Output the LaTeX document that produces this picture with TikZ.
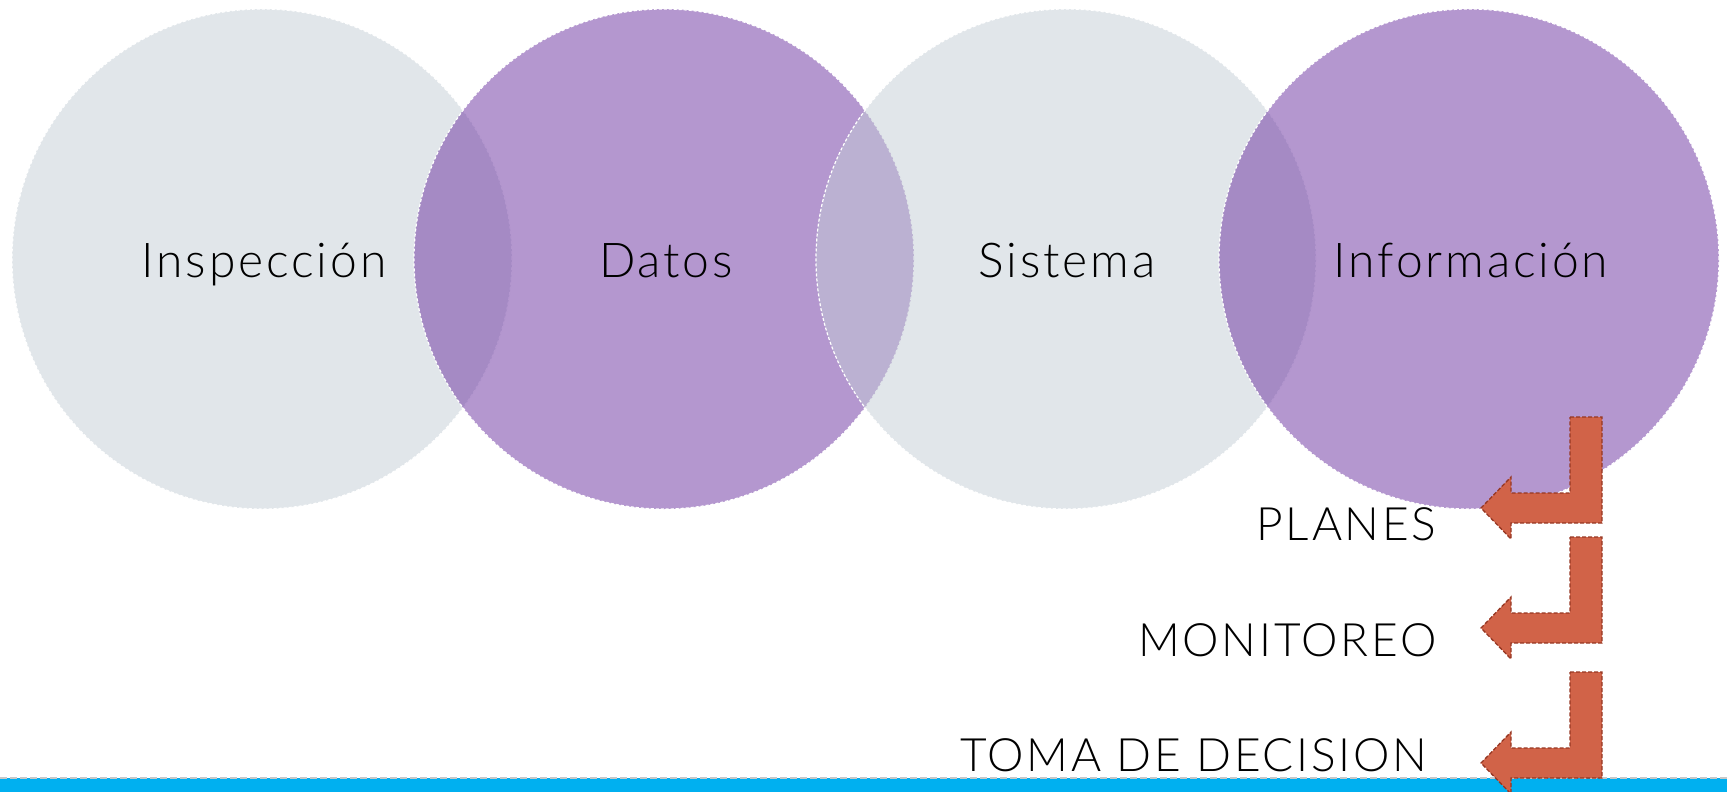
\documentclass[tikz,border=0pt]{standalone}
\usepackage{fontspec}
\IfFontExistsTF{Lato Light}{\setmainfont{Lato Light}[LetterSpace=6]}{\setmainfont{Lato}[LetterSpace=6]}
\definecolor{cgrey}{RGB}{195,205,213}
\definecolor{cpurple}{RGB}{105,47,159}
\definecolor{arrowfill}{RGB}{209,99,72}
\definecolor{arrowline}{RGB}{150,55,35}
\definecolor{barblue}{RGB}{0,176,240}
\definecolor{bardash}{RGB}{200,200,200}
\begin{document}
\begin{tikzpicture}[x=1pt,y=-1pt,
  ring/.style={circle, minimum size=500pt, inner sep=0pt, fill opacity=0.5, draw=white, draw opacity=1, line width=1.2pt, dash pattern=on 3pt off 2pt},
  greyring/.style={ring, fill=cgrey},
  purplering/.style={ring, fill=cpurple},
  biglabel/.style={anchor=base, font=\fontsize{48}{58}\selectfont, text=black},
  sidelabel/.style={anchor=base east, font=\fontsize{46}{55}\selectfont, text=black},
  arrowstyle/.style={fill=arrowfill, draw=arrowline, line width=1.3pt, dash pattern=on 4pt off 2pt},
  bentarrow/.pic={\draw[arrowstyle] (0,0) -- (32,0) -- (32,106) -- (-59,106) -- (-59,122) -- (-89,91) -- (-59,60) -- (-59,76) -- (0,76) -- cycle;}
]
\useasboundingbox (0,0) rectangle (1727,792);
\node[greyring] (c1) at (262,259) {};
\node[purplering] (c2) at (664,259) {};
\node[greyring] (c3) at (1066,259) {};
\node[purplering] (c4) at (1469,259) {};
\node[biglabel] (l1) at (264,277) {Inspección};
\node[biglabel] (l2) at (666,277) {Datos};
\node[biglabel] (l3) at (1067,277) {Sistema};
\node[biglabel] (l4) at (1471,277) {Información};
\fill[barblue] (0,778) rectangle (1727,792);
\draw[bardash, line width=1.2pt, dash pattern=on 7pt off 3pt] (0,778) -- (1727,778);
\node[sidelabel] (s1) at (1440,540) {PLANES};
\node[sidelabel] (s2) at (1440,656) {MONITOREO};
\node[sidelabel] (s3) at (1431,771) {TOMA DE DECISION};
\pic (a1) at (1570,417) {bentarrow};
\pic (a2) at (1570,537) {bentarrow};
\pic (a3) at (1570,672) {bentarrow};
\end{tikzpicture}
\end{document}
